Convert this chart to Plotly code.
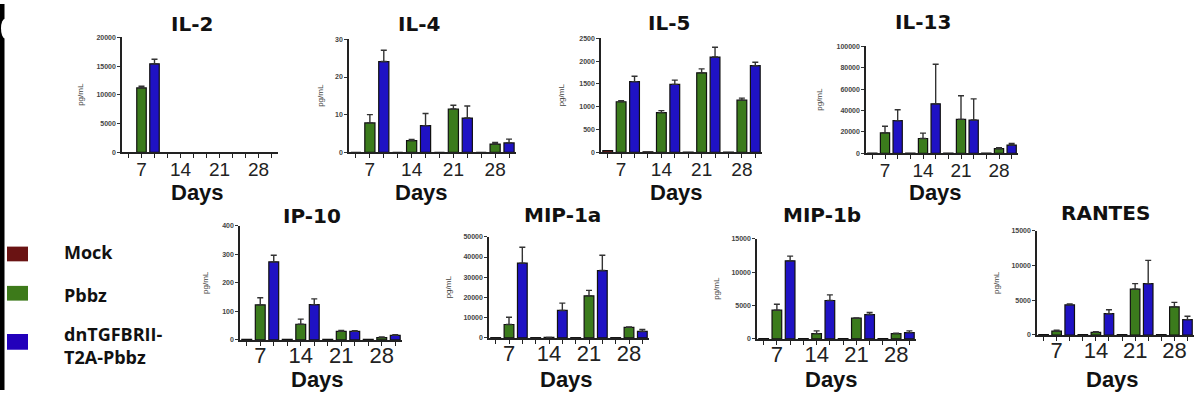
import plotly.graph_objects as go

W, H = 1199, 393

# ---------------- data ----------------
days = ["7", "14", "21", "28"]
day_index = [0, 1, 2, 3]
groups = ["Mock", "Pbbz", "dnTGFBRII-T2A-Pbbz"]

il2_mock = [None, None, None, None]
il2_pbbz = [11200, None, None, None]
il2_pbbz_err = [300, 0, 0, 0]
il2_dn = [15400, None, None, None]
il2_dn_err = [800, 0, 0, 0]

il4_mock = [0, 0, 0, 0]
il4_pbbz = [7.8, 3.1, 11.5, 2.2]
il4_pbbz_err = [2.2, 0.3, 1.0, 0.4]
il4_dn = [24.1, 7.1, 9.1, 2.5]
il4_dn_err = [3.0, 3.2, 3.2, 1.0]

il5_mock = [40, 12, 5, 3]
il5_pbbz = [1110, 870, 1745, 1145]
il5_pbbz_err = [20, 45, 85, 45]
il5_dn = [1550, 1490, 2090, 1900]
il5_dn_err = [120, 95, 215, 75]

il13_mock = [200, 200, 200, 200]
il13_pbbz = [19100, 13800, 31700, 4300]
il13_pbbz_err = [6100, 5000, 22100, 900]
il13_dn = [30500, 46200, 31100, 7700]
il13_dn_err = [10100, 36900, 19700, 1500]

ip10_mock = [2, 2, 2, 2]
ip10_pbbz = [123, 55, 30, 8]
ip10_pbbz_err = [25, 18, 3, 2]
ip10_dn = [274, 124, 30, 16]
ip10_dn_err = [23, 20, 2, 2]

mip1a_mock = [150, 150, 150, 150]
mip1a_pbbz = [6650, 300, 20800, 5200]
mip1a_pbbz_err = [3550, 0, 2700, 200]
mip1a_dn = [37000, 13600, 33300, 3200]
mip1a_dn_err = [7800, 3600, 7600, 1000]

mip1b_mock = [50, 50, 50, 50]
mip1b_pbbz = [4300, 800, 3100, 800]
mip1b_pbbz_err = [900, 400, 50, 50]
mip1b_dn = [11700, 5750, 3650, 950]
mip1b_dn_err = [700, 850, 300, 250]

rantes_mock = [60, 60, 60, 60]
rantes_pbbz = [570, 380, 6600, 4050]
rantes_pbbz_err = [130, 90, 800, 650]
rantes_dn = [4340, 3070, 7400, 2220]
rantes_dn_err = [140, 560, 3350, 480]

y_max = [20000, 30, 2500, 100000, 400, 50000, 15000, 15000]
y_step = [5000, 10, 500, 20000, 100, 10000, 5000, 5000]
titles = ["IL-2", "IL-4", "IL-5", "IL-13", "IP-10", "MIP-1a", "MIP-1b", "RANTES"]

series = [
    (il2_mock, il2_pbbz, il2_pbbz_err, il2_dn, il2_dn_err),
    (il4_mock, il4_pbbz, il4_pbbz_err, il4_dn, il4_dn_err),
    (il5_mock, il5_pbbz, il5_pbbz_err, il5_dn, il5_dn_err),
    (il13_mock, il13_pbbz, il13_pbbz_err, il13_dn, il13_dn_err),
    (ip10_mock, ip10_pbbz, ip10_pbbz_err, ip10_dn, ip10_dn_err),
    (mip1a_mock, mip1a_pbbz, mip1a_pbbz_err, mip1a_dn, mip1a_dn_err),
    (mip1b_mock, mip1b_pbbz, mip1b_pbbz_err, mip1b_dn, mip1b_dn_err),
    (rantes_mock, rantes_pbbz, rantes_pbbz_err, rantes_dn, rantes_dn_err),
]

# ---------------- layout geometry (pixels) ----------------
# (x_left, x_right, y_top, y_zero, title_x, title_y, days_x, days_y, unit_x)
geom = [
    (122, 278, 34, 151, 192, 20, 197, 192, 81),
    (349, 516, 36, 151, 419, 20, 421, 192, 321),
    (601, 762, 35, 151, 669, 19, 676, 192, 561),
    (866, 1018, 43, 152, 923, 18, 935, 192, 820),
    (240, 402, 226, 342, 312, 216, 317, 382, 206),
    (489, 649, 237, 340, 562, 215, 566, 382, 448),
    (757, 916, 239, 341, 822, 215, 831, 382, 717),
    (1037, 1194, 231, 337, 1105, 213, 1112, 382, 997),
]

colors = ["#6b1414", "#3b7b1c", "#1f12c4"]
legend_colors = ["#6a1313", "#3d7a1a", "#2200bb"]

def px(x):
    return x / W

def py(y):
    return 1 - y / H

fig = go.Figure()
annotations = []
shapes = []

for k in range(8):
    ax = "" if k == 0 else str(k + 1)
    mock, pb, pb_err, dn, dn_err = series[k]
    xl, xr, yt, y0, tx, ty, dx, dy, ux = geom[k]
    vals = [mock, pb, dn]
    errs = [None, pb_err, dn_err]
    for g in range(3):
        kw = {}
        if errs[g] is not None:
            kw["error_y"] = dict(type="data", symmetric=False, array=errs[g],
                                 arrayminus=[0] * len(errs[g]),
                                 color="#333333", thickness=1.4, width=3)
        fig.add_trace(go.Bar(
            x=day_index, y=vals[g], name=groups[g], showlegend=False,
            marker=dict(color=colors[g], line=dict(color="#111111", width=1.2)),
            xaxis="x" + ax, yaxis="y" + ax, **kw))
    bottom_row = k >= 4
    fig.layout["xaxis" + ax] = dict(
        domain=[px(xl), px(xr)], anchor="y" + ax, range=[-0.5, 3.5],
        tickmode="array", tickvals=day_index, ticktext=days,
        ticks="outside", ticklen=4, tickwidth=1.2, tickcolor="#222",
        minor=dict(dtick=1 / 3, tick0=0, ticks="outside", ticklen=4,
                   tickwidth=1.2, tickcolor="#222", showgrid=False),
        showline=True, linecolor="#222", linewidth=1.5,
        showgrid=False, zeroline=False, fixedrange=True,
        tickfont=dict(family="Liberation Sans", size=22 if bottom_row else 19,
                      color="#222"),
        ticklabelstandoff=-9 if bottom_row else -5,
    )
    fig.layout["yaxis" + ax] = dict(
        domain=[py(y0), py(yt)], anchor="x" + ax, range=[0, y_max[k]],
        tick0=0, dtick=y_step[k], tickformat="d", ticks="outside", ticklen=3,
        tickwidth=1, tickcolor="#333", showline=True, linecolor="#222",
        linewidth=1.5, showgrid=False, zeroline=False, fixedrange=True,
        tickfont=dict(family="Liberation Sans", size=7, color="#444", weight="bold"),
    )
    annotations.append(dict(text=titles[k], x=px(tx), y=py(ty), xref="paper",
                            yref="paper", showarrow=False, xanchor="center",
                            yanchor="middle",
                            font=dict(family="DejaVu Sans", size=20, color="#111",
                                      weight="bold")))
    annotations.append(dict(text="Days", x=px(dx), y=py(dy), xref="paper",
                            yref="paper", showarrow=False, xanchor="center",
                            yanchor="middle",
                            font=dict(family="Liberation Sans", size=22, color="#111",
                                      weight="bold")))
    annotations.append(dict(text="pg/mL", x=px(ux), y=py((yt + y0) / 2), xref="paper",
                            yref="paper", showarrow=False, textangle=-90,
                            xanchor="center", yanchor="middle",
                            font=dict(family="Liberation Sans", size=8, color="#444")))

# legend (drawn manually)
legend_rows = [(247, 262, 253), (287, 302, 296), (336, 352, 348)]
legend_text = ["Mock", "Pbbz", "dnTGFBRII-<br>T2A-Pbbz"]
for i in range(3):
    y_a, y_b, y_t = legend_rows[i]
    shapes.append(dict(type="rect", xref="paper", yref="paper",
                       x0=px(7), x1=px(28), y0=py(y_b), y1=py(y_a),
                       fillcolor=legend_colors[i], line=dict(width=0)))
    annotations.append(dict(text=legend_text[i], x=px(62), y=py(y_t), xref="paper",
                            yref="paper", showarrow=False, xanchor="left",
                            yanchor="middle", align="left",
                            font=dict(family="Open Sans", size=18, color="#111",
                                      weight="bold")))

# black strip on the left edge
shapes.append(dict(type="rect", xref="paper", yref="paper", x0=0, x1=px(4.5),
                   y0=0, y1=1, fillcolor="black", line=dict(width=0)))
shapes.append(dict(type="circle", xref="paper", yref="paper", x0=px(1), x1=px(9),
                   y0=py(35), y1=py(15), fillcolor="white", line=dict(width=0)))

fig.update_layout(
    width=W, height=H, margin=dict(l=0, r=0, t=0, b=0),
    paper_bgcolor="white", plot_bgcolor="white",
    barmode="group", bargap=0, bargroupgap=0.27,
    annotations=annotations, shapes=shapes, showlegend=False,
)

fig.write_html("out.html", config={"displayModeBar": False},
               post_script="document.body.style.margin='0';"
                           "document.body.style.overflow='hidden';")
